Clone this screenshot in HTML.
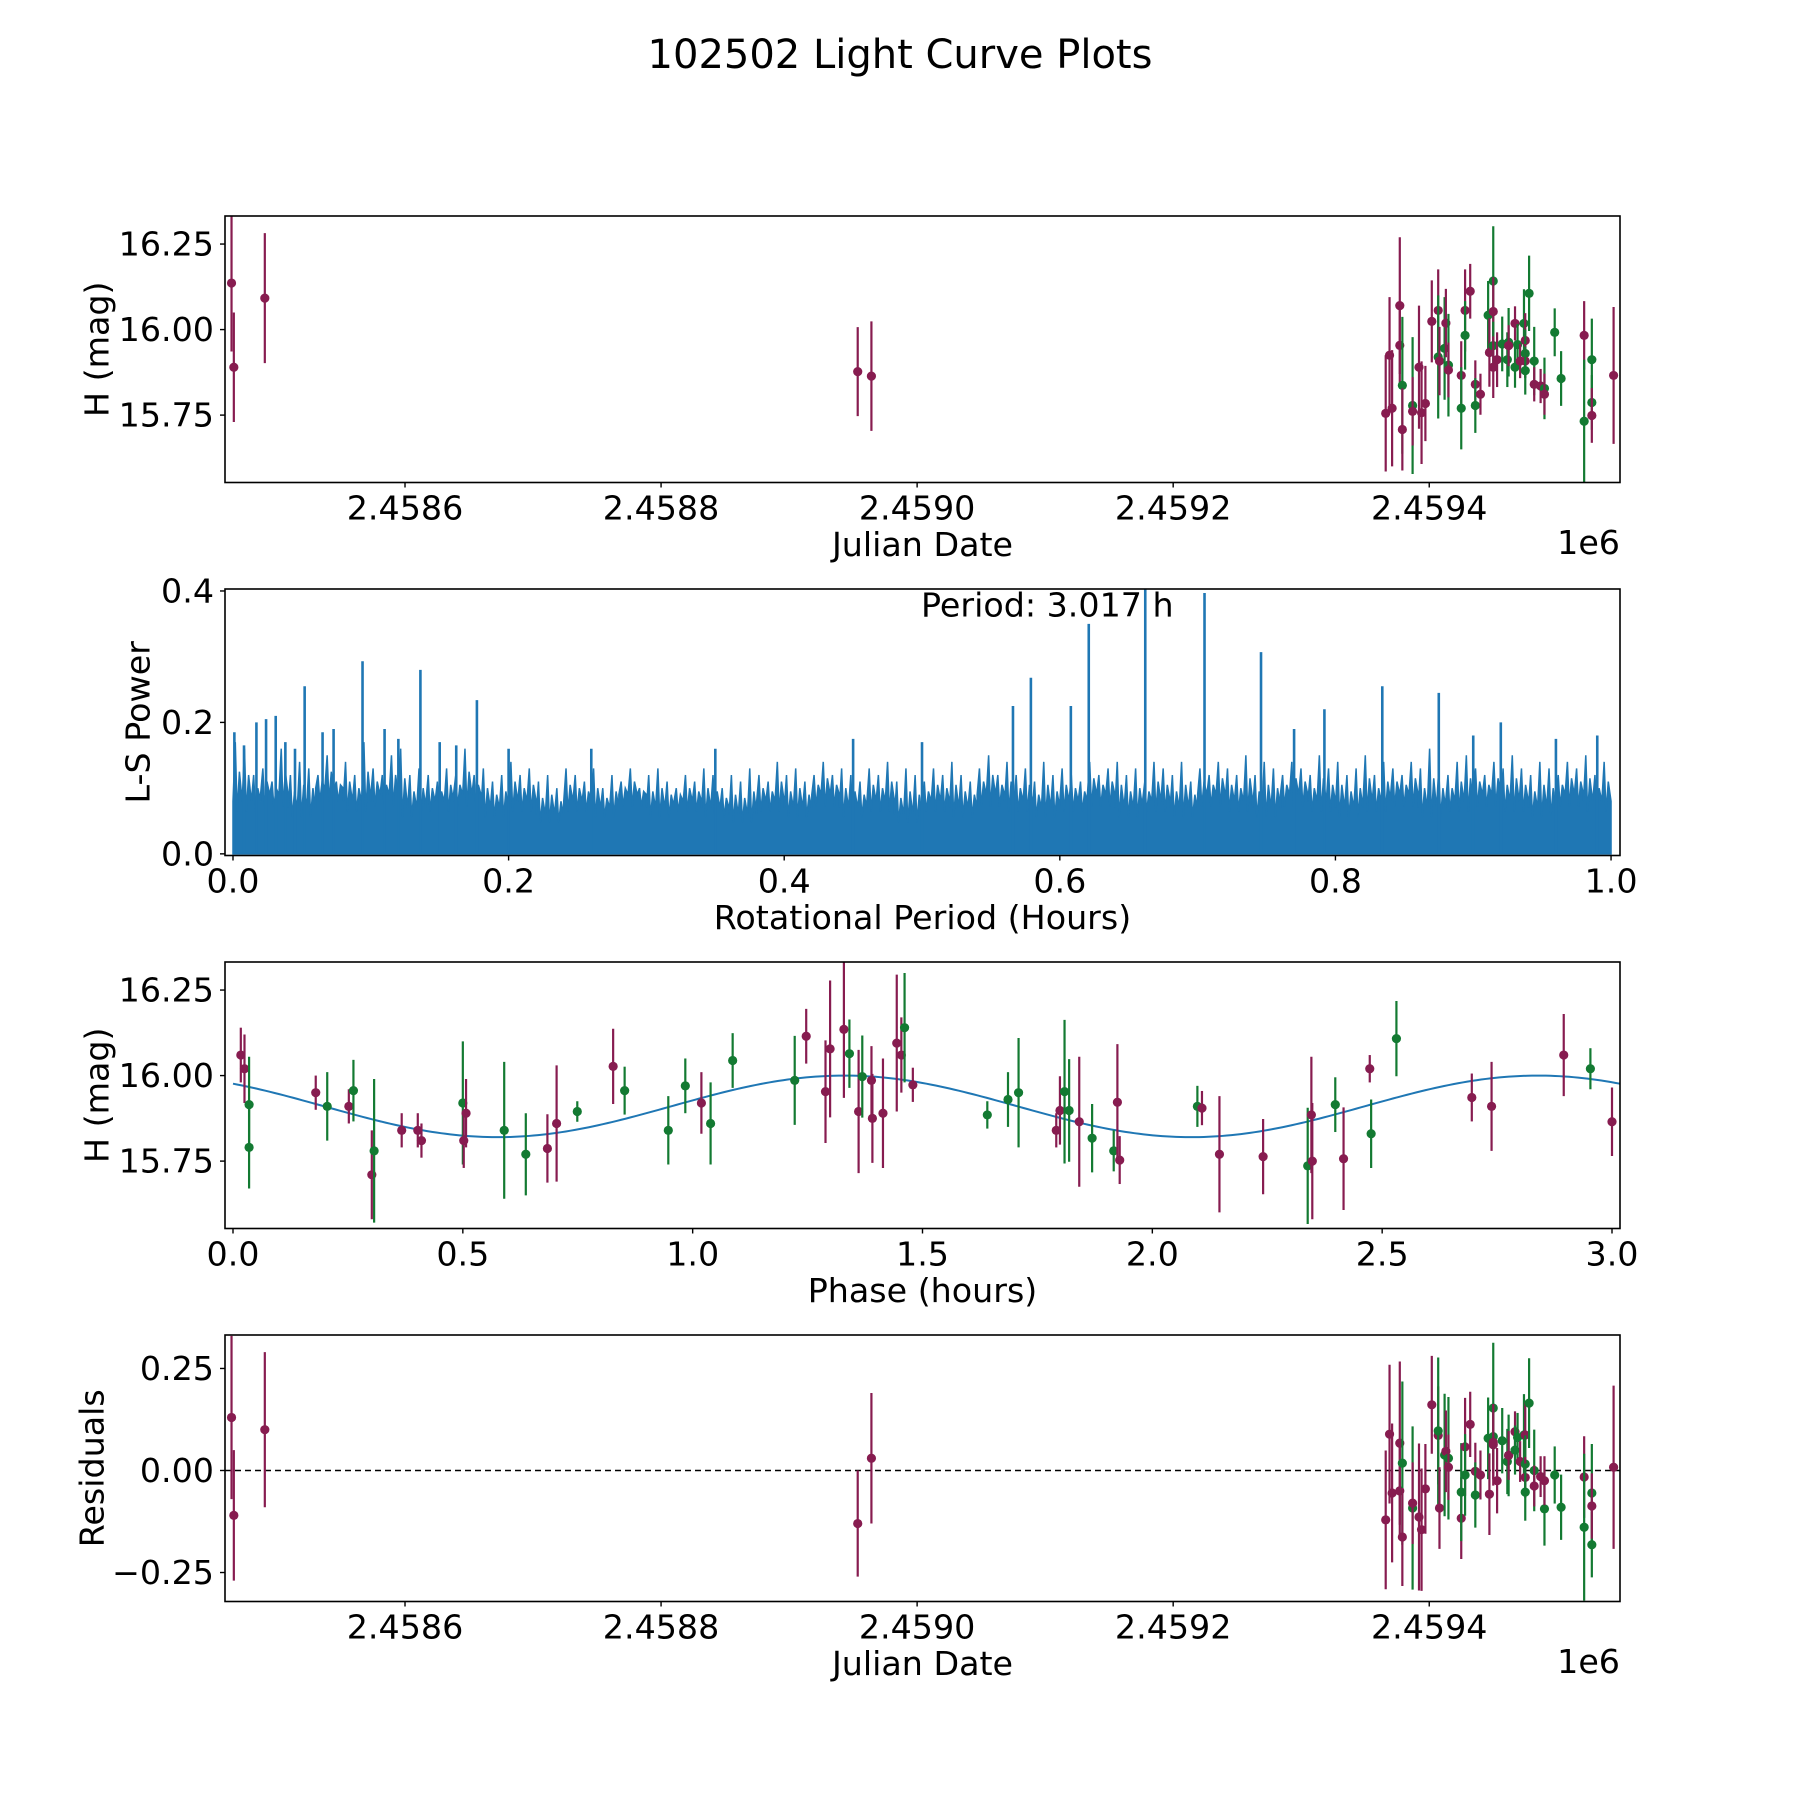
<!DOCTYPE html>
<html><head><meta charset="utf-8"><title>102502 Light Curve Plots</title>
<style>html,body{margin:0;padding:0;background:#fff}svg{display:block}text{font-family:"DejaVu Sans","Liberation Sans",sans-serif;fill:#000}</style>
</head><body>
<svg id="fig" width="1800" height="1800" viewBox="0 0 1800 1800" xmlns="http://www.w3.org/2000/svg">
<rect x="0" y="0" width="1800" height="1800" fill="#fff"/>
<text x="900" y="55" text-anchor="middle" dominant-baseline="central" font-size="40">102502 Light Curve Plots</text>
</svg>
<script>
// ---- data: raw light curve (JD - 2459000) ----
const jdOff = [-535.5,-533.7,-509.5,-46.4,-35.7,366,369,371,377,377,379,379,387,387,392,394,397,402,407,407,408,412,413,415,415,425,425,428,428,432,436,436,440,446,447,450,450,450,450,453,457,461,462,462,467,467,469,471,474,475,475,475,475,478,482,482,487,490,490,498,503,521,521,527,527,527,544];
const hMag = [16.136,15.89,16.092,15.877,15.864,15.755,15.925,15.77,16.07,15.954,15.837,15.708,15.778,15.761,15.89,15.757,15.784,16.024,16.056,15.92,15.908,15.945,16.019,15.896,15.882,15.866,15.77,16.056,15.983,16.112,15.84,15.778,15.811,16.042,15.933,16.142,16.053,15.953,15.89,15.912,15.958,15.912,15.963,15.953,16.018,15.89,15.956,15.908,16.018,15.968,15.93,15.908,15.88,16.106,15.908,15.84,15.835,15.828,15.811,15.992,15.857,15.983,15.732,15.912,15.787,15.749,15.866];
const hErr = [0.2,0.16,0.19,0.13,0.16,0.17,0.17,0.17,0.2,0.12,0.2,0.12,0.2,0.1,0.18,0.15,0.11,0.12,0.12,0.18,0.1,0.15,0.1,0.15,0.08,0.1,0.12,0.12,0.1,0.08,0.07,0.08,0.06,0.1,0.1,0.16,0.1,0.07,0.09,0.08,0.08,0.08,0.1,0.06,0.05,0.06,0.06,0.05,0.1,0.08,0.07,0.05,0.07,0.11,0.1,0.05,0.05,0.09,0.06,0.07,0.08,0.1,0.18,0.12,0.08,0.08,0.2];
const band = ['m','m','m','m','m','m','m','m','m','m','g','m','g','m','m','m','m','m','m','g','m','g','m','g','m','m','g','m','g','m','m','g','m','g','m','g','m','g','m','m','g','g','g','m','m','g','g','m','g','m','g','m','g','g','g','m','m','g','m','g','g','m','g','g','g','m','m'];
const resid = [0.13,-0.11,0.10,-0.13,0.03,-0.121,0.089,-0.055,0.067,-0.05,0.018,-0.163,-0.092,-0.08,-0.114,-0.145,-0.045,0.161,0.086,0.097,-0.092,0.038,0.047,0.03,0.008,-0.117,-0.053,0.058,-0.011,0.113,-0.002,-0.06,-0.011,0.079,-0.058,0.153,0.063,0.083,0.069,-0.025,0.073,0.022,0.037,0.037,0.095,0.05,0.081,0.022,0.087,0.087,0.016,-0.017,-0.053,0.165,0,-0.038,-0.015,-0.094,-0.025,-0.011,-0.09,-0.016,-0.139,-0.055,-0.182,-0.087,0.008];
// ---- data: phase-folded ----
const phase = [0.017,0.025,0.035,0.035,0.18,0.205,0.252,0.262,0.302,0.307,0.367,0.402,0.41,0.5,0.502,0.507,0.59,0.637,0.684,0.704,0.749,0.827,0.852,0.947,0.984,1.019,1.039,1.087,1.222,1.247,1.289,1.299,1.329,1.341,1.361,1.369,1.389,1.391,1.414,1.444,1.454,1.461,1.479,1.641,1.686,1.709,1.791,1.799,1.809,1.819,1.841,1.869,1.916,1.924,1.929,2.098,2.108,2.146,2.241,2.338,2.346,2.348,2.398,2.416,2.473,2.476,2.531,2.695,2.738,2.895,2.953,3.0];
const phaseMag = [16.06,16.02,15.915,15.79,15.95,15.91,15.91,15.956,15.71,15.78,15.84,15.84,15.81,15.92,15.81,15.89,15.84,15.77,15.787,15.86,15.895,16.027,15.956,15.84,15.97,15.92,15.86,16.044,15.986,16.115,15.953,16.078,16.135,16.064,15.895,15.997,15.986,15.875,15.89,16.095,16.06,16.14,15.973,15.885,15.93,15.95,15.84,15.898,15.953,15.898,15.865,15.817,15.78,15.922,15.753,15.91,15.905,15.77,15.763,15.736,15.885,15.75,15.915,15.757,16.02,15.83,16.108,15.936,15.91,16.06,16.02,15.865];
const phaseErr = [0.08,0.1,0.14,0.12,0.05,0.1,0.05,0.09,0.13,0.21,0.05,0.05,0.05,0.18,0.08,0.1,0.2,0.12,0.1,0.17,0.03,0.11,0.07,0.1,0.08,0.09,0.12,0.08,0.13,0.08,0.15,0.2,0.2,0.1,0.18,0.12,0.1,0.13,0.16,0.2,0.11,0.16,0.05,0.04,0.08,0.16,0.05,0.1,0.21,0.15,0.19,0.1,0.06,0.17,0.07,0.06,0.05,0.17,0.11,0.17,0.17,0.17,0.08,0.15,0.04,0.1,0.11,0.07,0.13,0.12,0.06,0.1];
const phaseBand = ['m','m','g','g','m','g','m','g','m','g','m','m','m','g','m','m','g','g','m','m','g','m','g','g','g','m','g','g','g','m','m','m','m','g','m','g','m','m','m','m','m','g','m','g','g','g','m','m','g','g','m','g','g','m','m','g','m','m','m','g','m','m','g','m','m','g','g','m','m','m','g','m'];
const modelMean = 15.91, modelAmp = 0.09, modelPeak = 1.33, period = 3.017;
// ---- data: periodogram ----
const lsTops = [0.17,0.16,0.12,0.13,0.11,0.16,0.12,0.14,0.13,0.12,0.15,0.11,0.14,0.12,0.17,0.13,0.12,0.15,0.16,0.12,0.13,0.12,0.11,0.13,0.12,0.16,0.12,0.13,0.11,0.12,0.14,0.12,0.13,0.11,0.12,0.10,0.13,0.12,0.11,0.13,0.10,0.12,0.11,0.13,0.10,0.12,0.13,0.11,0.10,0.12,0.11,0.13,0.12,0.10,0.12,0.11,0.13,0.12,0.11,0.14,0.12,0.13,0.11,0.12,0.14,0.12,0.13,0.12,0.11,0.13,0.12,0.14,0.11,0.13,0.12,0.11,0.13,0.12,0.14,0.12,0.11,0.13,0.15,0.12,0.14,0.12,0.13,0.11,0.14,0.12,0.13,0.12,0.11,0.14,0.12,0.13,0.14,0.12,0.13,0.11,0.14,0.13,0.12,0.14,0.11,0.13,0.12,0.14,0.13,0.12,0.15,0.12,0.14,0.13,0.12,0.14,0.13,0.12,0.15,0.13,0.14,0.12,0.13,0.15,0.12,0.14,0.13,0.12,0.14,0.13,0.16,0.13,0.12,0.14,0.15,0.13,0.12,0.14,0.13,0.15,0.13,0.12,0.14,0.13,0.12,0.14,0.13,0.15,0.12,0.14];
const lsValleys = [0.08,0.09,0.07,0.1,0.08,0.09,0.07,0.08,0.09,0.07,0.08,0.06,0.08,0.07,0.09,0.07,0.08,0.07,0.06,0.08,0.07,0.09,0.07,0.08,0.06,0.08,0.07,0.09,0.08,0.07,0.08,0.09,0.07,0.08,0.07,0.09,0.08,0.07,0.09,0.08,0.07,0.08,0.09,0.07,0.08,0.09,0.08,0.07,0.09,0.08];
const spikeX = [0.001,0.008,0.017,0.024,0.031,0.038,0.045,0.052,0.065,0.073,0.094,0.11,0.12,0.136,0.15,0.162,0.177,0.2,0.26,0.35,0.45,0.5,0.566,0.579,0.608,0.621,0.662,0.705,0.746,0.77,0.792,0.834,0.875,0.9,0.92,0.96,0.99];
const spikeY = [0.185,0.165,0.2,0.205,0.21,0.17,0.16,0.255,0.185,0.19,0.293,0.19,0.175,0.28,0.17,0.165,0.234,0.16,0.16,0.16,0.175,0.17,0.225,0.268,0.225,0.35,0.41,0.397,0.307,0.19,0.22,0.255,0.245,0.18,0.2,0.175,0.18];
// ---- ticks ----
const jdTicks = [2458600,2458800,2459000,2459200,2459400];
const jdTickLabels = ['2.4586','2.4588','2.4590','2.4592','2.4594'];
const magTicks = [15.75,16.0,16.25];
const magTickLabels = ['15.75','16.00','16.25'];
const lsXTicks = [0,0.2,0.4,0.6,0.8,1.0];
const lsXTickLabels = ['0.0','0.2','0.4','0.6','0.8','1.0'];
const lsYTicks = [0,0.2,0.4];
const lsYTickLabels = ['0.0','0.2','0.4'];
const phTicks = [0,0.5,1,1.5,2,2.5,3];
const phTickLabels = ['0.0','0.5','1.0','1.5','2.0','2.5','3.0'];
const resTicks = [-0.25,0,0.25];
const resTickLabels = ['\u22120.25','0.00','0.25'];

const NS = 'http://www.w3.org/2000/svg';
const svg = document.getElementById('fig');
const COL = {m:'#871c50', g:'#137a32'};
const L = 225, W = 1395, H = 266.5, FS = 33.3;
function mk(tag, attrs, parent){const e=document.createElementNS(NS,tag);for(const k in attrs)e.setAttribute(k,attrs[k]);(parent||svg).appendChild(e);return e;}
function lin(d0,d1,r0,r1){return v=>r0+(v-d0)/(d1-d0)*(r1-r0);}

function frame(top, name){
  const g = mk('g',{});
  
  
  return g;
}
function border(g, top){
  const r = mk('rect',{x:L,y:top,width:W,height:H,fill:'none',stroke:'#000','stroke-width':1.6},g);
  
  
}
function xTicks(g, top, sx, ticks, labels){
  ticks.forEach((t,i)=>{
    const x = sx(t);
    const tk = mk('line',{x1:x,x2:x,y1:top+H,y2:top+H+5,stroke:'#000','stroke-width':1.4},g);
    
    
    const tx = mk('text',{x:x,y:top+H+12,'text-anchor':'middle','dominant-baseline':'hanging','font-size':FS},g);
    tx.textContent = labels[i];
    
    
  });
}
function yTicks(g, sy, ticks, labels){
  ticks.forEach((t,i)=>{
    const y = sy(t);
    const tk = mk('line',{x1:L-5,x2:L,y1:y,y2:y,stroke:'#000','stroke-width':1.4},g);
    
    
    const tx = mk('text',{x:L-11,y:y,'text-anchor':'end','dominant-baseline':'central','font-size':FS},g);
    tx.textContent = labels[i];
    
    
  });
}
function labels(g, top, xl, yl, yx){
  const a = mk('text',{x:L+W/2,y:top+H+62,'text-anchor':'middle','dominant-baseline':'central','font-size':FS},g);
  a.textContent = xl;
  
  
  const cy = top+H/2;
  const b = mk('text',{x:yx,y:cy,'text-anchor':'middle','dominant-baseline':'central','font-size':FS,transform:`rotate(-90 ${yx} ${cy})`},g);
  b.textContent = yl;
  
  
}
function offsetLabel(g, top){
  const t = mk('text',{x:L+W,y:top+H+60,'text-anchor':'end','dominant-baseline':'central','font-size':FS},g);
  t.textContent = '1e6';
  
  
}
function errPoint(g, x, y, y1, y2, c, clipId){
  const ln = mk('line',{x1:x,x2:x,y1:y1,y2:y2,stroke:c,'stroke-width':2.2,'clip-path':`url(#${clipId})`},g);
  
  
  const p = mk('circle',{cx:x,cy:y,r:4.6,fill:c,'clip-path':`url(#${clipId})`},g);
  
  
}
const defs = mk('defs',{});
function clip(id, top){const c=mk('clipPath',{id:id},defs);mk('rect',{x:L,y:top,width:W,height:H},c);}

const jdMin = 2458459.4, jdMax = 2459549;
const magMin = 15.553, magMax = 16.332;

// ---- Axes 1: raw light curve ----
(function(){
  const top = 216; clip('c1',top);
  const g = frame(top,'light-curve-axes');
  const sx = lin(jdMin,jdMax,L,L+W), sy = lin(magMin,magMax,top+H,top);
  jdOff.forEach((d,i)=>{
    const x = sx(2459000+d);
    errPoint(g, x, sy(hMag[i]), sy(hMag[i]+hErr[i]), sy(hMag[i]-hErr[i]), COL[band[i]], 'c1');
  });
  border(g,top); xTicks(g,top,sx,jdTicks,jdTickLabels); yTicks(g,sy,magTicks,magTickLabels);
  labels(g,top,'Julian Date','H (mag)',97); offsetLabel(g,top);
})();

// ---- Axes 2: periodogram ----
(function(){
  const top = 589; clip('c2',top);
  const g = frame(top,'periodogram-axes');
  const sx = lin(-0.0058,1.0065,L,L+W), sy = lin(-0.0025,0.403,top+H,top);
  const n = lsTops.length;
  let d = `M${sx(0)},${sy(0)}`;
  for(let i=0;i<n;i++){
    const x0 = i/n, x1 = (i+1)/n, v = lsValleys[Math.floor(i*lsValleys.length/n)];
    d += ` L${sx(x0)},${sy(v)} L${sx(x0+0.25/n)},${sy(lsTops[i])} L${sx(x0+0.45/n)},${sy(v*0.8)} L${sx(x0+0.7/n)},${sy((lsTops[i]+v)/2)} L${sx(x1)},${sy(v)}`;
  }
  d += ` L${sx(1)},${sy(0)} Z`;
  const area = mk('path',{d:d,fill:'#1f77b4',stroke:'#1f77b4','stroke-width':1.5,'clip-path':'url(#c2)'},g);
  
  
  spikeX.forEach((px,i)=>{
    const s = mk('line',{x1:sx(px),x2:sx(px),y1:sy(0),y2:sy(spikeY[i]),stroke:'#1f77b4','stroke-width':2.6,'clip-path':'url(#c2)'},g);
    
    
  });
  border(g,top); xTicks(g,top,sx,lsXTicks,lsXTickLabels); yTicks(g,sy,lsYTicks,lsYTickLabels);
  labels(g,top,'Rotational Period (Hours)','L-S Power',138);
  const t = mk('text',{x:921,y:605,'text-anchor':'start','dominant-baseline':'central','font-size':FS},g);
  t.textContent = 'Period: ' + period.toFixed(3) + ' h';
  
  
})();

// ---- Axes 3: phase folded ----
(function(){
  const top = 962; clip('c3',top);
  const g = frame(top,'phase-folded-axes');
  const sx = lin(-0.0174,3.0174,L,L+W), sy = lin(magMin,magMax,top+H,top);
  let d = '';
  for(let k=0;k<=300;k++){
    const p = period*k/300;
    const v = modelMean + modelAmp*Math.cos(2*Math.PI*(p-modelPeak)/(period/2));
    d += (k?' L':'M') + sx(p) + ',' + sy(v);
  }
  const m = mk('path',{d:d,fill:'none',stroke:'#1f77b4','stroke-width':2,'clip-path':'url(#c3)'},g);
  
  
  phase.forEach((p,i)=>{
    errPoint(g, sx(p), sy(phaseMag[i]), sy(phaseMag[i]+phaseErr[i]), sy(phaseMag[i]-phaseErr[i]), COL[phaseBand[i]], 'c3');
  });
  border(g,top); xTicks(g,top,sx,phTicks,phTickLabels); yTicks(g,sy,magTicks,magTickLabels);
  labels(g,top,'Phase (hours)','H (mag)',97);
})();

// ---- Axes 4: residuals ----
(function(){
  const top = 1335; clip('c4',top);
  const g = frame(top,'residuals-axes');
  const sx = lin(jdMin,jdMax,L,L+W), sy = lin(-0.321,0.332,top+H,top);
  const z = mk('line',{x1:L,x2:L+W,y1:sy(0),y2:sy(0),stroke:'#000','stroke-width':1.6,'stroke-dasharray':'6,4'},g);
  
  
  jdOff.forEach((d,i)=>{
    errPoint(g, sx(2459000+d), sy(resid[i]), sy(resid[i]+hErr[i]), sy(resid[i]-hErr[i]), COL[band[i]], 'c4');
  });
  border(g,top); xTicks(g,top,sx,jdTicks,jdTickLabels); yTicks(g,sy,resTicks,resTickLabels);
  labels(g,top,'Julian Date','Residuals',92); offsetLabel(g,top);
})();
</script>
</body></html>
